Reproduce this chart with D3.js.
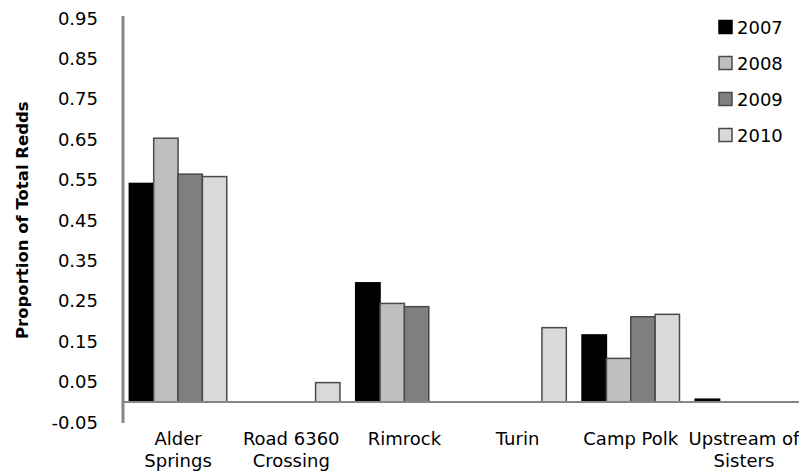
<!DOCTYPE html>
<html>
<head>
<meta charset="utf-8">
<script src="https://cdn.jsdelivr.net/npm/d3@7"></script>
<style>
    body { margin: 0; background: #ffffff; }
    svg { display: block; }
</style>
</head>
<body>
<div id="chart"></div>
<script>
const sites = [
    ['Alder', 'Springs'],
    ['Road 6360', 'Crossing'],
    ['Rimrock'],
    ['Turin'],
    ['Camp Polk'],
    ['Upstream of', 'Sisters']
];
const years = ['2007', '2008', '2009', '2010'];
const p2007 = [0.541, 0, 0.295, 0, 0.166, 0.007];
const p2008 = [0.653, 0, 0.244, 0, 0.108, 0];
const p2009 = [0.564, 0, 0.236, 0, 0.211, 0];
const p2010 = [0.558, 0.048, 0, 0.184, 0.217, 0];
const y_ticks = [0.95, 0.85, 0.75, 0.65, 0.55, 0.45, 0.35, 0.25, 0.15, 0.05, -0.05];

(function() {
    const series = [p2007, p2008, p2009, p2010];
    const fills = ['#000000', '#bfbfbf', '#7f7f7f', '#d9d9d9'];
    const strokes = ['#000000', '#4a4a4a', '#4a4a4a', '#4a4a4a'];

    let width = 799,
        height = 476,
        left = 123,
        right = 799,
        top = 18.2,
        bottom = 422.2;

    let svg = d3.select('#chart').append('svg')
        .attr('width', width)
        .attr('height', height)
        .attr('font-family', '"DejaVu Sans", sans-serif')
        .attr('font-size', 18);

    let x0 = d3.scaleBand()
        .domain(d3.range(sites.length))
        .range([left, right])
        .paddingInner(0.139)
        .paddingOuter(0.056);

    let x1 = d3.scaleBand()
        .domain(years)
        .range([0, x0.bandwidth()]);

    let y = d3.scaleLinear()
        .domain([-0.05, 0.95])
        .range([bottom, top]);

    // y tick labels, no tick marks
    svg.append('g')
        .selectAll('text')
        .data(y_ticks)
        .enter().append('text')
        .attr('x', 98)
        .attr('y', (d) => y(d))
        .attr('dy', '0.36em')
        .attr('text-anchor', 'end')
        .attr('fill', '#000000')
        .text((d) => d.toFixed(2));

    svg.append('text')
        .attr('transform', 'translate(28,' + ((y(0.95) + y(-0.05)) / 2) + ') rotate(-90)')
        .attr('text-anchor', 'middle')
        .attr('font-weight', 'bold')
        .attr('font-size', 16.5)
        .attr('fill', '#000000')
        .text('Proportion  of Total Redds');

    let data = [];
    sites.forEach(function(s, i) {
        years.forEach(function(yr, j) {
            data.push({ site: i, year: yr, idx: j, value: series[j][i] });
        });
    });

    svg.append('g')
        .selectAll('rect')
        .data(data.filter((d) => d.value > 0))
        .enter().append('rect')
        .attr('x', (d) => x0(d.site) + x1(d.year))
        .attr('y', (d) => y(d.value))
        .attr('width', x1.bandwidth())
        .attr('height', (d) => y(0) - y(d.value))
        .attr('fill', (d) => fills[d.idx])
        .attr('stroke', (d) => strokes[d.idx])
        .attr('stroke-width', 1.5);

    // axes lines
    svg.append('line')
        .attr('x1', left)
        .attr('x2', right)
        .attr('y1', y(0))
        .attr('y2', y(0))
        .attr('stroke', '#868686')
        .attr('stroke-width', 2);

    svg.append('line')
        .attr('x1', left)
        .attr('x2', left)
        .attr('y1', 16)
        .attr('y2', 423)
        .attr('stroke', '#868686')
        .attr('stroke-width', 3);

    let labels = svg.append('g')
        .selectAll('text')
        .data(sites)
        .enter().append('text')
        .attr('text-anchor', 'middle')
        .attr('fill', '#000000');

    labels.selectAll('tspan')
        .data((d, i) => d.map((line) => ({ line: line, site: i })))
        .enter().append('tspan')
        .attr('x', (d) => x0(d.site) + x0.bandwidth() / 2)
        .attr('y', (d, k) => 445 + k * 22)
        .text((d) => d.line);

    let legend = svg.append('g')
        .selectAll('g')
        .data(years)
        .enter().append('g')
        .attr('transform', (d, i) => 'translate(719,' + (27 + i * 36) + ')');

    legend.append('rect')
        .attr('x', 0)
        .attr('y', -6.5)
        .attr('width', 13)
        .attr('height', 13)
        .attr('fill', (d, i) => fills[i])
        .attr('stroke', (d, i) => strokes[i])
        .attr('stroke-width', 1.5);

    legend.append('text')
        .attr('x', 18)
        .attr('dy', '0.38em')
        .attr('fill', '#000000')
        .text((d) => d);
}());
</script>
</body>
</html>
